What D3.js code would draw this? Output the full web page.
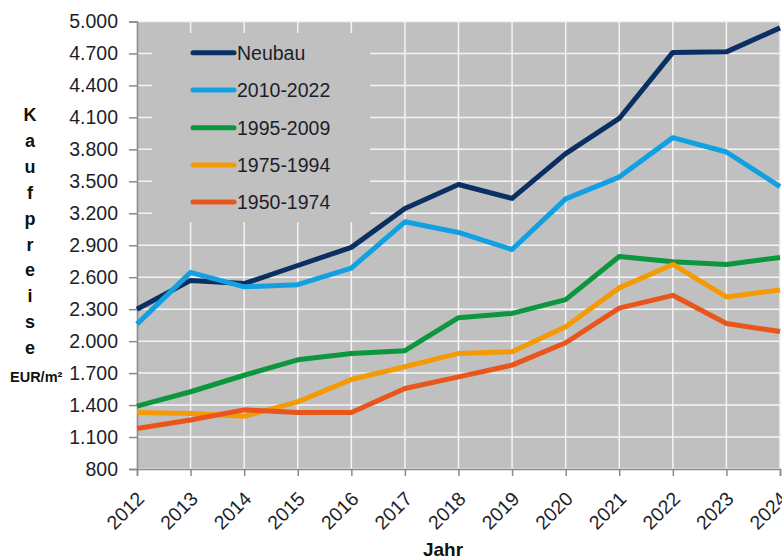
<!DOCTYPE html>
<html>
<head>
<meta charset="utf-8">
<script src="https://cdn.jsdelivr.net/npm/d3@7"></script>
<style>
  html, body { margin: 0; padding: 0; background: #fff; }
  svg { display: block; font-family: "Liberation Sans", Arial, sans-serif; }
</style>
</head>
<body>
<svg id="chart" width="782" height="559"></svg>
<script>
const years = [2012, 2013, 2014, 2015, 2016, 2017, 2018, 2019, 2020, 2021, 2022, 2023, 2024];
const seriesNames = ["Neubau", "2010-2022", "1995-2009", "1975-1994", "1950-1974"];
const neubau   = [2300, 2570, 2540, 2710, 2880, 3245, 3470, 3340, 3760, 4090, 4710, 4715, 4940];
const b2010    = [2160, 2645, 2510, 2530, 2685, 3120, 3020, 2860, 3335, 3540, 3910, 3775, 3450];
const b1995    = [1390, 1525, 1680, 1825, 1885, 1910, 2220, 2260, 2390, 2795, 2745, 2720, 2785];
const b1975    = [1330, 1320, 1295, 1430, 1640, 1760, 1885, 1900, 2135, 2500, 2720, 2415, 2480];
const b1950    = [1180, 1260, 1355, 1330, 1330, 1555, 1665, 1775, 1985, 2310, 2430, 2165, 2090];
const yTicks   = [800, 1100, 1400, 1700, 2000, 2300, 2600, 2900, 3200, 3500, 3800, 4100, 4400, 4700, 5000];
const colors   = ["#0a2f62", "#12a0e2", "#0c963e", "#f39a05", "#e8561c"];
const yTitleLetters = ["K", "a", "u", "f", "p", "r", "e", "i", "s", "e"];

const seriesValues = [neubau, b2010, b1995, b1975, b1950];

const svg = d3.select("#chart");
const L = 137, R = 780, T = 21.5, B = 469;

const x = d3.scaleLinear().domain([years[0], years[years.length - 1]]).range([L, R]);
const y = d3.scaleLinear().domain([800, 5000]).range([B, T]);

// plot background
svg.append("rect").attr("x", L).attr("y", T).attr("width", R - L).attr("height", B - T)
  .attr("fill", "#c0c0c0");

// gridlines
svg.append("g").selectAll("line.h").data(yTicks).join("line")
  .attr("x1", L).attr("x2", R).attr("y1", d => y(d)).attr("y2", d => y(d))
  .attr("stroke", "#f4f4f4").attr("stroke-width", 1.5);
svg.append("g").selectAll("line.v").data(years).join("line")
  .attr("x1", d => x(d)).attr("x2", d => x(d)).attr("y1", T).attr("y2", B)
  .attr("stroke", "#f4f4f4").attr("stroke-width", 1.5);

// legend box (covers gridlines)
svg.append("rect").attr("x", 152).attr("y", 33).attr("width", 218).attr("height", 189)
  .attr("fill", "#c0c0c0");

// axes
const yAxis = d3.axisLeft(y).tickValues(yTicks).tickSize(8).tickPadding(11)
  .tickFormat(d => d3.format(",")(d).replace(/,/g, "."));
const gy = svg.append("g").attr("transform", `translate(${L},0)`).call(yAxis);
gy.select(".domain").attr("stroke", "#8a8a8a").attr("stroke-width", 1.5);
gy.selectAll(".tick line").attr("stroke", "#8a8a8a").attr("stroke-width", 1.5);
gy.selectAll(".tick text").attr("font-size", "19.5px").attr("fill", "#1e1e2a")
  .attr("font-family", "'Liberation Sans', Arial, sans-serif");

const xAxis = d3.axisBottom(x).tickValues(years).tickSize(7).tickFormat(d3.format("d"));
const gx = svg.append("g").attr("transform", `translate(0,${B})`).call(xAxis);
gx.select(".domain").attr("stroke", "#8a8a8a").attr("stroke-width", 1.5);
gx.selectAll(".tick line").attr("stroke", "#8a8a8a").attr("stroke-width", 1.5);
gx.selectAll(".tick text")
  .attr("font-size", "19.5px").attr("fill", "#1e1e2a")
  .attr("font-family", "'Liberation Sans', Arial, sans-serif")
  .attr("text-anchor", "end")
  .attr("dy", null)
  .attr("y", null)
  .attr("transform", "translate(8,31) rotate(-45)");

// lines
const line = d3.line().x((d, i) => x(years[i])).y(d => y(d));
svg.append("g").selectAll("path").data(seriesValues).join("path")
  .attr("d", d => line(d))
  .attr("fill", "none")
  .attr("stroke", (d, i) => colors[i])
  .attr("stroke-width", 5)
  .attr("stroke-linejoin", "round");

// legend
const legendY = [52.7, 90, 127.7, 165, 202];
const lg = svg.append("g");
seriesNames.forEach((name, i) => {
  lg.append("line").attr("x1", 193).attr("x2", 234)
    .attr("y1", legendY[i]).attr("y2", legendY[i])
    .attr("stroke", colors[i]).attr("stroke-width", 5).attr("stroke-linecap", "round");
  lg.append("text").attr("x", 237).attr("y", legendY[i]).attr("dy", "0.36em")
    .attr("font-size", "19.5px").attr("fill", "#1e1e2a").text(name);
});

// y title (stacked letters)
const letterY = [115, 141, 167, 193, 219, 245, 270, 296, 322, 348];
svg.append("g").selectAll("text").data(yTitleLetters).join("text")
  .attr("x", 30).attr("y", (d, i) => letterY[i]).attr("dy", "0.36em")
  .attr("text-anchor", "middle").attr("font-weight", "bold").attr("font-size", "18px")
  .attr("fill", "#111").text(d => d);
svg.append("text").attr("x", 10).attr("y", 382)
  .attr("font-weight", "bold").attr("font-size", "14.5px").attr("fill", "#111")
  .text("EUR/m²");

// x title
svg.append("text").attr("x", 443).attr("y", 556).attr("text-anchor", "middle")
  .attr("font-weight", "bold").attr("font-size", "19px").attr("fill", "#111")
  .text("Jahr");
</script>
</body>
</html>
